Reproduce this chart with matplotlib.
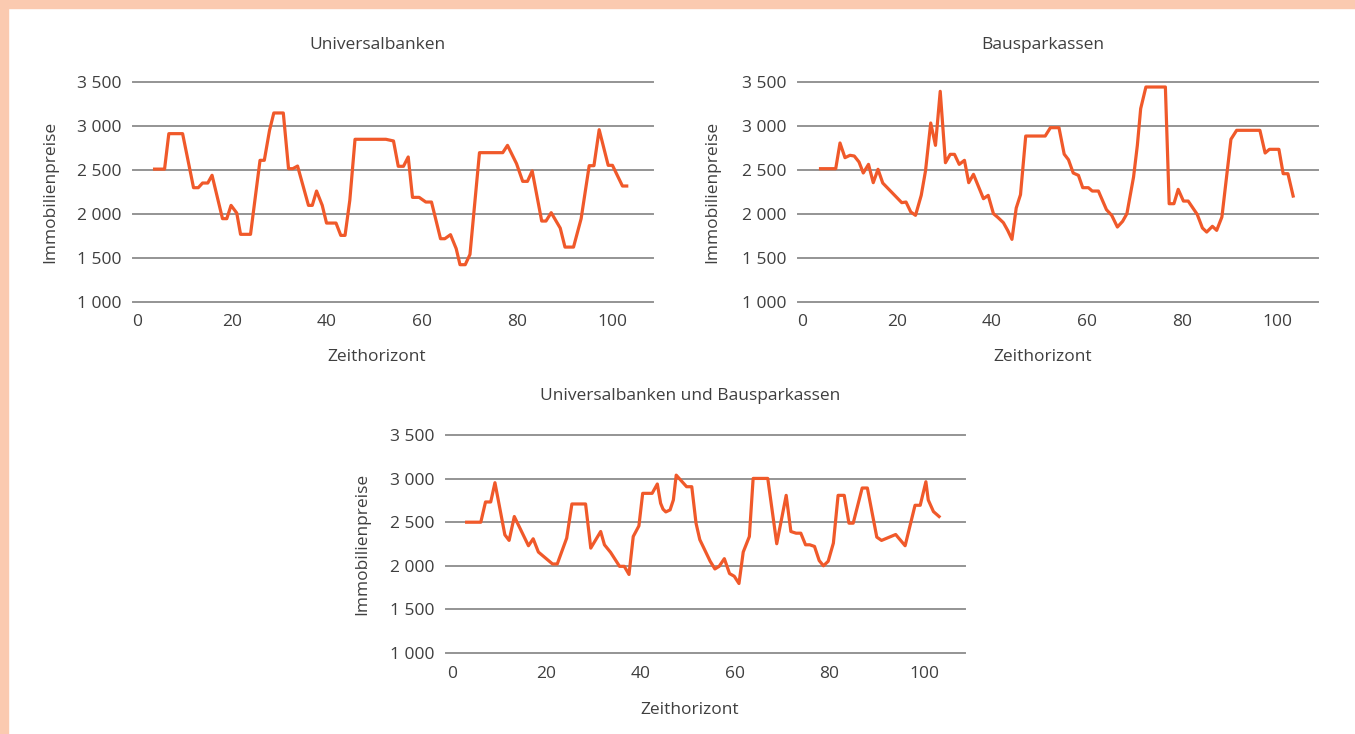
import matplotlib
matplotlib.use("Agg")
import matplotlib.pyplot as plt
from matplotlib.patches import Rectangle

# ---------------- data ----------------
ub_x = [3.7, 5.8, 6.7, 9.6, 11.9, 12.9, 13.8, 14.9, 15.8, 18.0, 18.9, 19.8, 21.0, 21.8, 23.9,
        25.9, 26.8, 27.9, 28.8, 30.8, 31.9, 32.8, 33.8, 36.1, 36.9, 37.8, 39.0, 39.9, 41.9,
        42.9, 43.8, 44.8, 45.9, 52.4, 54.0, 55.0, 56.1, 57.1, 58.0, 59.4, 60.8, 62.0, 63.9,
        64.8, 66.0, 67.2, 68.0, 69.1, 70.1, 72.1, 77.0, 78.0, 79.9, 81.2, 82.2, 83.2, 85.2,
        86.1, 87.2, 89.1, 90.1, 91.9, 93.5, 95.2, 96.2, 97.3, 99.2, 100.1, 102.2, 103.1]
ub_y = [2510, 2510, 2913, 2913, 2299, 2299, 2352, 2352, 2440, 1947, 1947, 2098, 2011, 1769, 1769,
        2610, 2610, 2950, 3148, 3148, 2515, 2515, 2545, 2098, 2098, 2261, 2098, 1897, 1897,
        1757, 1757, 2155, 2849, 2849, 2830, 2542, 2542, 2648, 2189, 2189, 2136, 2136, 1719,
        1719, 1765, 1606, 1424, 1424, 1541, 2697, 2697, 2780, 2572, 2371, 2371, 2489, 1920,
        1920, 2015, 1840, 1624, 1624, 1947, 2549, 2549, 2958, 2553, 2553, 2318, 2318]

bs_x = [3.9, 7.1, 8.0, 9.05, 10.1, 11.0, 12.0, 12.9, 14.0, 15.0, 16.0, 17.0, 21.0, 21.9, 22.9,
        23.9, 25.1, 26.0, 27.1, 28.1, 29.1, 30.2, 31.2, 32.1, 33.1, 34.2, 35.1, 36.1, 38.2,
        39.2, 40.3, 41.3, 42.4, 43.3, 44.2, 45.1, 46.0, 47.1, 51.2, 52.3, 54.1, 55.2, 56.1,
        57.1, 58.2, 59.1, 60.3, 61.1, 62.4, 64.1, 65.2, 66.4, 67.5, 68.4, 69.8, 70.6, 71.3,
        72.4, 76.5, 77.3, 78.3, 79.2, 80.3, 81.3, 83.2, 84.3, 85.2, 86.4, 87.3, 88.4, 90.3,
        91.5, 96.4, 97.5, 98.4, 100.4, 101.3, 102.3, 103.4]
bs_y = [2515, 2515, 2807, 2640, 2667, 2659, 2591, 2466, 2564, 2356, 2508, 2352, 2129, 2136, 2023,
        1985, 2212, 2489, 3034, 2780, 3394, 2583, 2678, 2678, 2564, 2610, 2356, 2451, 2174,
        2212, 2004, 1958, 1901, 1814, 1712, 2068, 2220, 2886, 2886, 2981, 2981, 2680, 2617,
        2466, 2439, 2299, 2299, 2261, 2261, 2049, 1985, 1852, 1917, 2004, 2420, 2780, 3197,
        3443, 3443, 2117, 2117, 2280, 2147, 2147, 1996, 1841, 1795, 1860, 1814, 1966, 2849,
        2951, 2951, 2693, 2735, 2735, 2458, 2458, 2204]

both_x = [3.1, 6.1, 7.1, 8.2, 9.1, 11.2, 12.1, 13.2, 16.2, 17.2, 18.3, 21.3, 22.3, 24.3, 25.4,
          28.3, 29.4, 31.5, 32.3, 33.6, 35.5, 36.5, 37.5, 38.4, 39.6, 40.4, 42.4, 43.5, 44.2,
          44.7, 45.3, 46.2, 46.9, 47.5, 49.7, 50.8, 51.7, 52.5, 54.7, 55.7, 56.6, 57.7, 58.8,
          59.8, 60.8, 61.7, 63.0, 63.8, 66.9, 68.8, 70.8, 71.8, 72.9, 73.9, 74.9, 75.8, 76.8,
          77.8, 78.7, 79.7, 80.8, 81.8, 83.1, 84.1, 85.0, 86.9, 88.0, 90.0, 91.0, 94.0, 96.0,
          98.1, 99.2, 100.4, 100.9, 102.0, 103.2]
both_y = [2500, 2500, 2732, 2732, 2953, 2355, 2291, 2565, 2230, 2310, 2158, 2021, 2021, 2318, 2709,
          2709, 2203, 2393, 2241, 2154, 1994, 1994, 1901, 2336, 2458, 2831, 2831, 2938, 2717,
          2650, 2618, 2641, 2755, 3040, 2907, 2907, 2489, 2300, 2052, 1964, 1994, 2082, 1911,
          1880, 1797, 2158, 2336, 3002, 3002, 2253, 2808, 2393, 2374, 2374, 2241, 2241, 2222,
          2060, 2000, 2052, 2260, 2808, 2808, 2489, 2489, 2892, 2892, 2329, 2291, 2359, 2230,
          2694, 2694, 2964, 2755, 2622, 2565]

titles = ["Universalbanken", "Bausparkassen", "Universalbanken und Bausparkassen"]
y_label = "Immobilienpreise"
x_label = "Zeithorizont"
y_ticks = [1000, 1500, 2000, 2500, 3000, 3500]
y_tick_labels = ["1 000", "1 500", "2 000", "2 500", "3 000", "3 500"]
x_ticks = [0, 20, 40, 60, 80, 100]
x_tick_labels = ["0", "20", "40", "60", "80", "100"]

# ---------------- style ----------------
W, H = 1355, 734
LINE_COLOR = "#F0592A"
GRID_COLOR = "#949494"
TEXT_COLOR = "#3F3F3F"
BORDER_COLOR = "#FBCAB0"
FONT = ["Open Sans", "DejaVu Sans"]
FS = 12.5

plt.rcParams["font.family"] = FONT

fig = plt.figure(figsize=(W / 100, H / 100), dpi=100)
fig.patch.set_facecolor("white")

# peach frame on top and left
fig.patches.append(Rectangle((0, 1 - 8 / H), 1, 8 / H, transform=fig.transFigure,
                             color=BORDER_COLOR, zorder=0))
fig.patches.append(Rectangle((0, 0), 8 / W, 1, transform=fig.transFigure,
                             color=BORDER_COLOR, zorder=0))


def make_panel(L, R, x0px, ppu, T, B, xs, ys, title, title_x, title_y, ylab_x, xlab_y):
    ax = fig.add_axes([L / W, 1 - B / H, (R - L) / W, (B - T) / H])
    ax.set_facecolor("none")
    ax.set_xlim((L - x0px) / ppu, (R - x0px) / ppu)
    ax.set_ylim(1000, 3500)
    for s in ax.spines.values():
        s.set_visible(False)
    for yv in y_ticks:
        ax.axhline(yv, color=GRID_COLOR, lw=1.4, clip_on=False, zorder=1)
    ax.plot(xs, ys, color=LINE_COLOR, lw=2.3, clip_on=False, zorder=3,
            solid_joinstyle="round")
    ax.set_yticks(y_ticks)
    ax.set_yticklabels(y_tick_labels)
    ax.set_xticks(x_ticks)
    ax.set_xticklabels(x_tick_labels)
    ax.tick_params(axis="both", length=0, labelsize=FS, colors=TEXT_COLOR)
    ax.tick_params(axis="y", pad=8)
    ax.tick_params(axis="x", pad=9)
    fig.text(title_x / W, 1 - title_y / H, title, ha="center", va="center",
             fontsize=FS, color=TEXT_COLOR)
    fig.text(ylab_x / W, 1 - (T + B) / 2 / H, y_label, ha="center", va="center",
             rotation=90, fontsize=FS, color=TEXT_COLOR)
    fig.text(title_x / W, 1 - xlab_y / H, x_label, ha="center", va="center",
             fontsize=FS, color=TEXT_COLOR)
    return ax


make_panel(133, 653, 137, 4.75, 82, 302, ub_x, ub_y, titles[0], 377, 45, 50, 357)
make_panel(798, 1318, 802, 4.75, 82, 302, bs_x, bs_y, titles[1], 1043, 45, 712, 357)
make_panel(446, 965, 452, 4.72, 435, 653, both_x, both_y, titles[2], 690, 396, 362, 710)

fig.savefig("out.png", dpi=100, facecolor="white")
